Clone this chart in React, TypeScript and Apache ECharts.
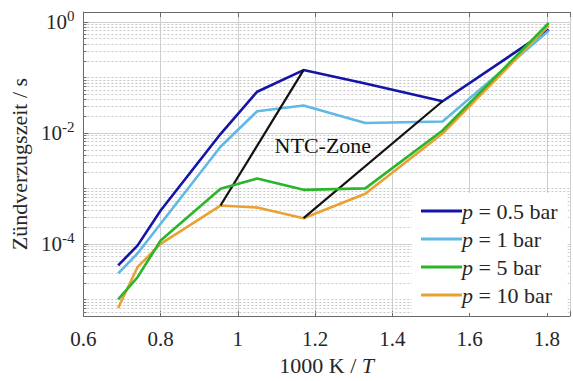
import React, { useEffect, useRef } from 'react';
import * as echarts from 'echarts';

// Inverse temperature 1000 K / T of the measured points
const invTemp = [0.69, 0.74, 0.8, 0.955, 1.05, 1.17, 1.33, 1.53, 1.805];

// Ignition delay times in seconds, one array per pressure
const tau05bar = [4.1e-5, 9.3e-5, 4.0e-4, 9.5e-3, 0.055, 0.135, 0.077, 0.037, 0.72];
const tau1bar = [2.95e-5, 6.7e-5, 2.3e-4, 5.6e-3, 0.0245, 0.031, 0.015, 0.016, 0.69];
const tau5bar = [1.0e-5, 2.5e-5, 1.15e-4, 9.8e-4, 1.5e-3, 9.4e-4, 1.0e-3, 0.011, 0.95];
const tau10bar = [7e-6, 3.8e-5, 1.0e-4, 4.9e-4, 4.5e-4, 2.9e-4, 8e-4, 0.0097, 0.85];

const seriesNames = ['p = 0.5 bar', 'p = 1 bar', 'p = 5 bar', 'p = 10 bar'];
const seriesColors = ['#1414a6', '#5fb9e4', '#2ab52a', '#e9a232'];

// Axis ranges and labelled decades
const xMin = 0.6;
const xMax = 1.86;
const xStep = 0.2;
const yMin = 5e-6;
const yMax = 1.5;
const labelledDecades = [-4, -2, 0];

// Position of the zone caption in data coordinates
const ntcCaption = { x: 1.22, y: 0.006, text: 'NTC-Zone' };

const SERIF = 'Liberation Serif';
const TEXT = '#262626';
const AXIS = '#6a6a6a';

function logGridValues() {
  const minor: number[] = [];
  const major: number[] = [];
  for (let k = -6; k <= 0; k++) {
    for (let m = 1; m <= 9; m++) {
      const v = m * Math.pow(10, k);
      if (v <= yMin || v >= yMax) continue;
      if (m === 1 && labelledDecades.includes(k)) major.push(v);
      else minor.push(v);
    }
  }
  return { minor, major };
}

function pairs(ys: number[]) {
  return invTemp.map((x, i) => [x, ys[i]]);
}

// Horizontal grid line across the plot for each value, with a short inner tick on the left axis
function gridLineSeries(values: number[], color: string, dash: number[] | null, tickLen: number) {
  return {
    type: 'custom',
    silent: true,
    z: 1,
    data: values.map((v) => [xMin, v]),
    renderItem: (_params: any, api: any) => {
      const v = api.value(1);
      const a = api.coord([xMin, v]);
      const b = api.coord([xMax, v]);
      const y = Math.round(a[1]) + 0.5;
      const children: any[] = [
        {
          type: 'line',
          shape: { x1: a[0], y1: y, x2: b[0], y2: y },
          style: { stroke: color, lineWidth: 1, lineDash: dash || undefined },
        },
      ];
      if (tickLen > 0) {
        children.push({
          type: 'line',
          shape: { x1: a[0], y1: y, x2: a[0] + tickLen, y2: y },
          style: { stroke: AXIS, lineWidth: 1 },
        });
      }
      return { type: 'group', children };
    },
  };
}

export default function App() {
  const ref = useRef<HTMLDivElement>(null);

  useEffect(() => {
    if (!ref.current) return;
    const chart = echarts.init(ref.current, null, { renderer: 'svg' });
    const { minor, major } = logGridValues();

    const ntcLeft = [
      [invTemp[3], tau10bar[3]],
      [invTemp[5], tau05bar[5]],
    ];
    const ntcRight = [
      [invTemp[5], tau10bar[5]],
      [invTemp[7], tau05bar[7]],
    ];

    const dataSeries = (name: string, ys: number[], color: string) => ({
      name,
      type: 'line',
      data: pairs(ys),
      showSymbol: false,
      symbol: 'none',
      lineStyle: { color, width: 2.6 },
      itemStyle: { color },
      z: 3,
    });

    chart.setOption({
      animation: false,
      backgroundColor: '#ffffff',
      textStyle: { fontFamily: SERIF },
      grid: { left: 83, top: 12, width: 491, height: 311, containLabel: false },
      legend: {
        data: seriesNames,
        orient: 'vertical',
        left: 412,
        top: 193,
        padding: [7, 10, 7, 9],
        icon: 'rect',
        itemWidth: 41,
        itemHeight: 3,
        itemGap: 6,
        backgroundColor: '#ffffff',
        formatter: (name: string) => name.replace(/^p(.*)$/, '{i|p}{n|$1}'),
        textStyle: {
          fontFamily: SERIF,
          fontSize: 22,
          lineHeight: 22,
          color: TEXT,
          padding: [0, 0, 0, -5],
          rich: {
            i: { fontFamily: SERIF, fontSize: 22, fontStyle: 'italic', color: TEXT },
            n: { fontFamily: SERIF, fontSize: 22, color: TEXT },
          },
        },
      },
      xAxis: [
        {
          type: 'value',
          min: xMin,
          max: xMax,
          interval: xStep,
          axisLine: { show: true, lineStyle: { color: AXIS, width: 1 } },
          axisTick: { show: true, inside: true, length: 5, lineStyle: { color: AXIS } },
          splitLine: { show: true, lineStyle: { color: '#cecece', width: 1 } },
          axisLabel: {
            margin: 12,
            fontFamily: SERIF,
            fontSize: 21,
            color: TEXT,
            formatter: (v: number) => {
              const q = v / xStep;
              if (Math.abs(q - Math.round(q)) > 1e-6 || v > 1.81) return '';
              return String(Math.round(v * 10) / 10);
            },
          },
          name: '{n|1000 K / }{it|T}',
          nameLocation: 'middle',
          nameGap: 37,
          nameTextStyle: {
            fontFamily: SERIF,
            fontSize: 22,
            color: TEXT,
            rich: {
              n: { fontFamily: SERIF, fontSize: 22, color: TEXT },
              it: { fontFamily: SERIF, fontSize: 22, fontStyle: 'italic', color: TEXT },
            },
          },
        },
        {
          type: 'value',
          position: 'top',
          min: xMin,
          max: xMax,
          interval: xStep,
          axisLine: { show: true, lineStyle: { color: AXIS, width: 1 } },
          axisTick: { show: true, inside: true, length: 5, lineStyle: { color: AXIS } },
          axisLabel: { show: false },
          splitLine: { show: false },
        },
      ],
      yAxis: {
        type: 'log',
        logBase: 10,
        min: yMin,
        max: yMax,
        axisLine: { show: true, lineStyle: { color: AXIS, width: 1 } },
        axisTick: { show: false },
        splitLine: { show: false },
        axisLabel: {
          margin: 9,
          fontFamily: SERIF,
          fontSize: 21,
          color: TEXT,
          formatter: (v: number) => {
            const l = Math.log10(v);
            const e = Math.round(l);
            if (Math.abs(l - e) > 1e-6 || !labelledDecades.includes(e)) return '';
            return `{b|10}{sup|${e}}`;
          },
          rich: {
            b: { fontFamily: SERIF, fontSize: 21, color: TEXT },
            sup: { fontFamily: SERIF, fontSize: 15, color: TEXT, padding: [0, 0, 12, 0] },
          },
        },
        name: 'Zündverzugszeit / s',
        nameLocation: 'middle',
        nameGap: 45,
        nameRotate: 90,
        nameTextStyle: { fontFamily: SERIF, fontSize: 22, color: TEXT },
      },
      series: [
        gridLineSeries(minor, '#c8c8c8', [2, 2], 3),
        gridLineSeries(major, '#d0d0d0', null, 5),
        dataSeries(seriesNames[0], tau05bar, seriesColors[0]),
        dataSeries(seriesNames[1], tau1bar, seriesColors[1]),
        dataSeries(seriesNames[3], tau10bar, seriesColors[3]),
        {
          name: 'ntc-left',
          type: 'line',
          data: ntcLeft,
          showSymbol: false,
          symbol: 'none',
          lineStyle: { color: '#111111', width: 2.2 },
          z: 3,
        },
        {
          name: 'ntc-right',
          type: 'line',
          data: ntcRight,
          showSymbol: false,
          symbol: 'none',
          lineStyle: { color: '#111111', width: 2.2 },
          z: 3,
          markPoint: {
            silent: true,
            symbol: 'circle',
            symbolSize: 0,
            label: {
              show: true,
              position: 'inside',
              formatter: ntcCaption.text,
              fontFamily: SERIF,
              fontSize: 22,
              color: '#111111',
            },
            data: [{ coord: [ntcCaption.x, ntcCaption.y] }],
          },
        },
        dataSeries(seriesNames[2], tau5bar, seriesColors[2]),
      ],
    });

    return () => chart.dispose();
  }, []);

  return (
    <div
      ref={ref}
      style={{ position: 'fixed', left: 0, top: 0, width: 573, height: 381, background: '#fff' }}
    />
  );
}
